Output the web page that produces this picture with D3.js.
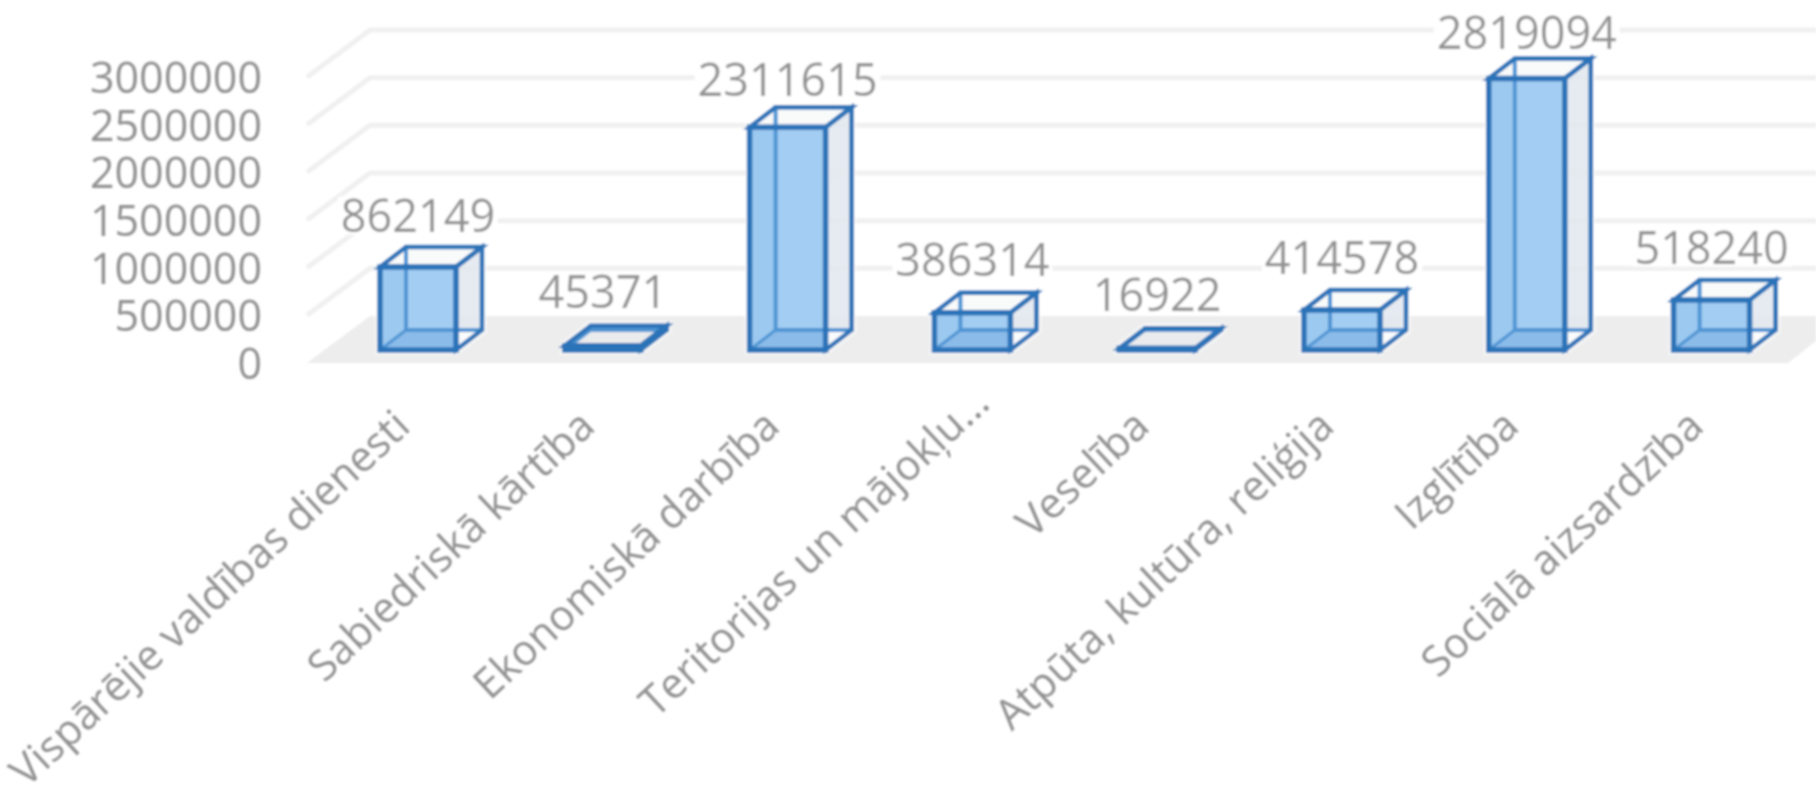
<!DOCTYPE html>
<html><head><meta charset="utf-8">
<script src="https://cdnjs.cloudflare.com/ajax/libs/d3/7.8.5/d3.min.js"></script>
<style>html,body{margin:0;padding:0;background:#fff;overflow:hidden}svg{display:block}
text{font-family:"Open Sans",sans-serif;fill:#929292}</style></head><body>
<svg id="c" width="1816" height="787"></svg>
<script>
const categories=["Vispārējie valdības dienesti","Sabiedriskā kārtība","Ekonomiskā darbība","Teritorijas un mājokļu…","Veselība","Atpūta, kultūra, reliģija","Izglītība","Sociālā aizsardzība"];
const values=[862149,45371,2311615,386314,16922,414578,2819094,518240];
const tickValues=[0,500000,1000000,1500000,2000000,2500000,3000000];

const W=1816,H=787;
const svg=d3.select("#c");
const defs=svg.append("defs");
defs.append("filter").attr("id","soft").attr("x","-5%").attr("y","-5%").attr("width","110%").attr("height","110%")
  .append("feGaussianBlur").attr("stdDeviation",1.15);
const root=svg.append("g").attr("filter","url(#soft)");

const x=d3.scaleBand().domain(categories).range([373,373+8*184.8]).paddingInner(0).paddingOuter(0);
const barW=76;
const left=d=>x(d)+7;
const yWall=d3.scaleLinear().domain([0,3000000]).range([363,77]);
const yBar=d3.scaleLinear().domain([0,3000000]).range([350,61]);
const yLabel=d3.scaleLinear().domain([0,3000000]).range([296,16]);
const floorDX=63,floorDY=47,barDX=26,barDY=20,wallX=307;

// floor
root.append("polygon").attr("fill","#ededed")
  .attr("points",[[wallX,yWall(0)],[wallX+floorDX,yWall(0)-floorDY],[W,yWall(0)-floorDY],[W,yWall(0)-22],[1788,yWall(0)]].join(" "));

// gridlines
const grid=root.append("g");
tickValues.forEach(v=>{
  const yy=yWall(v);
  grid.append("polyline").attr("fill","none").attr("stroke","#f0f0f0").attr("stroke-width",v===0?0:5)
    .attr("points",[[wallX,yy],[wallX+floorDX,yy-floorDY],[W,yy-floorDY]].join(" "));
});

// y axis
const axisY=d3.axisLeft(yWall).tickValues(tickValues).tickSize(0).tickPadding(0).tickFormat(d3.format("d"));
const gy=root.append("g").attr("transform","translate(262,0)").call(axisY);
gy.select(".domain").remove();
gy.selectAll("text").attr("font-size",43).attr("dy","0.36em").style("font-family",'"Open Sans",sans-serif').style("fill","#929292");

// bars
const data=categories.map((c,i)=>({c,v:values[i]}));
const bars=root.append("g").selectAll("g").data(data).join("g");
const line="#2b73b8", lineBack="#4f95d4";
bars.each(function(d){
  const g=d3.select(this);
  const x0=left(d.c), x1=x0+barW, yb=yBar(0), yt=yBar(d.v);
  const ft=[x0,yt],fr=[x1,yt],br=[x1,yb],bl=[x0,yb];
  const D=p=>[p[0]+barDX,p[1]-barDY];
  const tall=yb-yt>barDY;
  const poly=(pts,fill,stroke,sw)=>g.append("polygon").attr("points",pts.join(" "))
    .attr("fill",fill).attr("stroke",stroke||"none").attr("stroke-width",sw||0).attr("stroke-linejoin","miter");
  // soft halo
  poly([bl,ft,D(ft),D(fr),D(br),br],"none","#fff",10).attr("stroke-opacity",0.55);
  // fills
  poly([br,fr,D(fr),D(br)],"rgba(226,232,238,0.85)");
  poly([ft,fr,D(fr),D(ft)],tall?"rgba(244,245,246,0.55)":"rgba(232,234,236,0.7)");
  if(tall) poly([br,D(br),[x1,yb-barDY]],"rgba(255,255,255,0.8)");
  poly([bl,br,fr,ft],"rgb(163,205,242)");
  if(tall){
    poly([bl,br,[x1,yb-barDY],D(bl)],"rgba(120,175,225,0.55)");
    poly([bl,D(bl),[x0+barDX,yt],ft],"rgba(130,185,235,0.18)");
  }
  // back edges, seen through the box
  poly([D(ft),D(fr),D(br),D(bl)],"none",lineBack,4);
  g.append("polyline").attr("fill","none").attr("stroke",lineBack).attr("stroke-width",3)
    .attr("points",[bl,D(bl)].join(" "));
  // near edges
  poly([ft,D(ft),D(fr),fr],"none",line,4.5);
  poly([br,fr,D(fr),D(br)],"none",line,4.5);
  poly([bl,br,fr,ft],"none",line,5.5);
});

// data labels
const lab=root.append("g").selectAll("g").data(data).join("g")
  .attr("transform",d=>`translate(${left(d.c)+barW/2},${yLabel(d.v)})`);
lab.append("rect").attr("fill","#fff").attr("y",-19).attr("height",38)
  .attr("x",d=>-String(d.v).length*13-2).attr("width",d=>String(d.v).length*26+4);
lab.append("text").attr("text-anchor","middle").attr("dy","0.36em").attr("font-size",45).text(d=>d.v);

// category axis
const axisX=d3.axisBottom(x).tickSize(0).tickPadding(0);
const gx=root.append("g").call(axisX);
gx.select(".domain").remove();
gx.selectAll(".tick").attr("transform",d=>`translate(${left(d)+barW/2-16},418) rotate(-43)`);
gx.selectAll("text").attr("x",d=>d.endsWith("…")?34:0).attr("y",0).attr("dy","0.36em").attr("text-anchor","end")
  .attr("font-size",42).style("font-family",'"Open Sans",sans-serif').style("fill","#929292");
</script></body></html>
